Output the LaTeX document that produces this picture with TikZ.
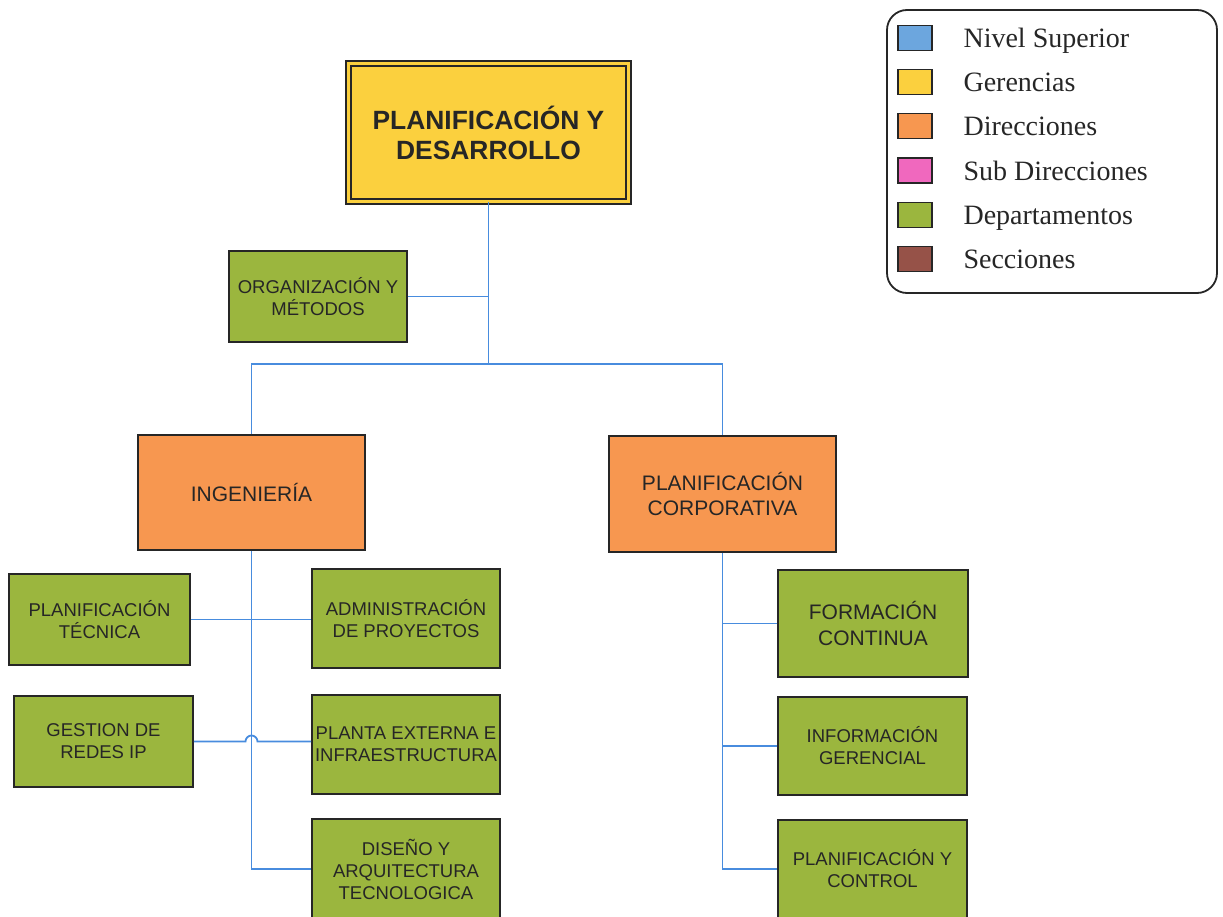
\documentclass[tikz,border=0pt]{standalone}
\usepackage{fontspec}
\setmainfont{Liberation Sans}
\newfontfamily\legfont{Liberation Serif}
\definecolor{gerencia}{RGB}{251,208,62}
\definecolor{direccion}{RGB}{247,151,80}
\definecolor{depto}{RGB}{155,182,62}
\definecolor{nivel}{RGB}{108,166,222}
\definecolor{subdir}{RGB}{240,104,190}
\definecolor{seccion}{RGB}{150,82,72}
\definecolor{linea}{RGB}{72,140,222}
\definecolor{borde}{RGB}{38,38,38}
\tikzset{
	unitbox/.style={draw=borde, line width=1.8pt, inner sep=0pt, align=center, text=borde},
	gerbox/.style={unitbox, fill=gerencia, line width=1.9pt, double=gerencia, double distance=3pt,
		minimum width=280, minimum height=138, font=\fontsize{26.4}{30}\selectfont\bfseries},
	dirbox/.style={unitbox, fill=direccion, minimum width=227, minimum height=115,
		font=\fontsize{21}{25}\selectfont},
	deptobox/.style={unitbox, fill=depto, minimum width=188, minimum height=99,
		font=\fontsize{18.5}{22}\selectfont},
	link/.style={draw=linea, line width=1.8pt},
	swatch/.style={draw=borde, line width=1.2pt, minimum width=34, minimum height=25, inner sep=0pt}
}
\begin{document}
\begin{tikzpicture}[x=1pt, y=-1pt]
	\useasboundingbox (0,0) rectangle (1223,917);
	
	%gerencia
	\node[gerbox] (pyd) at (488.5,132.5) {PLANIFICACIÓN Y\\DESARROLLO};
	\node[deptobox, minimum width=178, minimum height=91] (oym) at (318,296.5) {ORGANIZACIÓN Y\\MÉTODOS};
	
	%direcciones
	\node[dirbox] (ing) at (251.5,492.5) {INGENIERÍA};
	\node[dirbox, minimum height=116] (pcorp) at (722.5,494) {PLANIFICACIÓN\\CORPORATIVA};
	
	%departamentos ingenieria
	\node[deptobox, minimum width=181, minimum height=91] (plantec) at (99.5,619.5) {PLANIFICACIÓN\\TÉCNICA};
	\node[deptobox] (admin) at (406,618.5) {ADMINISTRACIÓN\\DE PROYECTOS};
	\node[deptobox, minimum width=179, minimum height=91] (gestion) at (103.5,741.5) {GESTION DE\\REDES IP};
	\node[deptobox] (planta) at (406,744.5) {PLANTA EXTERNA E\\INFRAESTRUCTURA};
	\node[deptobox, minimum height=100] (diseno) at (406,869) {DISEÑO Y\\ARQUITECTURA\\TECNOLOGICA};
	
	%departamentos planificacion corporativa
	\node[deptobox, minimum width=190, minimum height=107, font=\fontsize{21}{26}\selectfont] (formacion) at (873,623.5) {FORMACIÓN\\CONTINUA};
	\node[deptobox, minimum width=189, minimum height=98] (infger) at (872.5,746) {INFORMACIÓN\\GERENCIAL};
	\node[deptobox, minimum width=189, minimum height=98] (pcontrol) at (872.5,869) {PLANIFICACIÓN Y\\CONTROL};
	
	%lineas
	\coordinate (j0) at (488.5,364);
	\draw[link] (pyd.south) -- (j0);
	\draw[link] (oym.east) -- (oym.east -| pyd.south);
	\draw[link] (ing.north) |- (j0) -| (pcorp.north);
	\draw[link] (ing.south) |- (diseno.west);
	\draw[link] (plantec.east) -- (plantec.east -| admin.west);
	\draw[link] (gestion.east) -- ([xshift=-6pt]gestion.east -| ing.south)
		arc[start angle=180, end angle=0, radius=6pt] -- (gestion.east -| planta.west);
	\draw[link] (pcorp.south) |- (pcontrol.west);
	\draw[link] (formacion.west) -- (formacion.west -| pcorp.south);
	\draw[link] (infger.west) -- (infger.west -| pcorp.south);
	
	%leyenda
	\node[draw=borde, line width=1.8pt, rounded corners=20pt, minimum width=330, minimum height=283] (leyenda) at (1052,151.5) {};
	\foreach \c/\t [count=\i from 0] in {nivel/Nivel Superior, gerencia/Gerencias, direccion/Direcciones,
		subdir/Sub Direcciones, depto/Departamentos, seccion/Secciones}{
		\node[swatch, fill=\c] (sw\i) at (915, 38+44.2*\i) {};
		\node[anchor=base west, text=borde, font=\legfont\fontsize{28}{32}\selectfont] (lt\i) at (960, 47.5+44.2*\i) {\t};
	}
\end{tikzpicture}
\end{document}
